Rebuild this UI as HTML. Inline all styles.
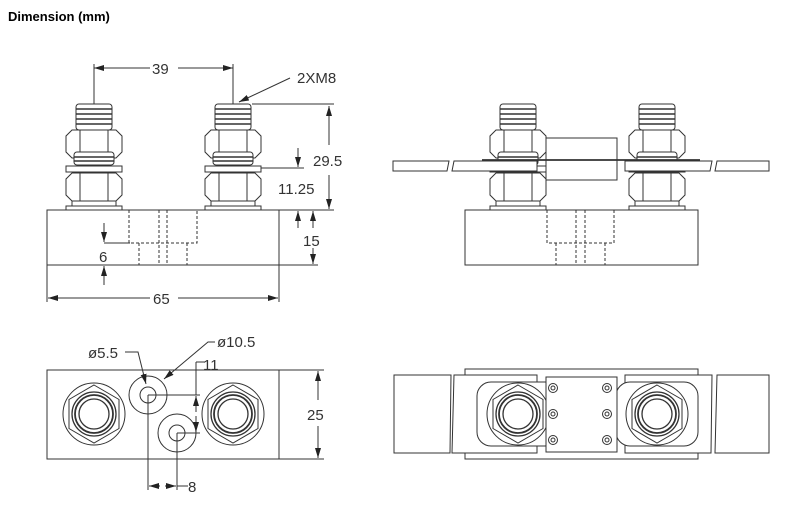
<!DOCTYPE html>
<html><head><meta charset="utf-8"><style>
body{margin:0;background:#fff;width:800px;height:517px;overflow:hidden}
svg{display:block}
text{font-family:"Liberation Sans",sans-serif;fill:#333}
</style></head><body>
<svg width="800" height="517" viewBox="0 0 800 517" xmlns="http://www.w3.org/2000/svg">
<defs>
<marker id="a" viewBox="0 0 10 6" refX="10" refY="3" markerWidth="10" markerHeight="6" orient="auto-start-reverse" markerUnits="userSpaceOnUse"><path d="M0,0L10,3L0,6z" fill="#222"/></marker>
<g id="stud" fill="#fff" stroke="#333" stroke-width="1">
 <rect x="-18" y="0" width="36" height="26" rx="3"/>
 <path d="M-18,5h36M-18,10h36M-18,15h36M-18,20h36" stroke-width="1.5"/>
 <path d="M-22,26h44l6,6v16l-6,6h-44l-6,-6v-16z"/>
 <path d="M-14,26v28M14,26v28"/>
 <rect x="-20" y="48" width="40" height="13" rx="3"/>
 <path d="M-20,53h40M-20,57h40" stroke-width="1.5"/>
 <rect x="-28" y="62" width="56" height="6"/>
 <path d="M-22,69h44l6,6v16l-6,6h-44l-6,-6v-16z"/>
 <path d="M-14,69v28M14,69v28"/>
 <rect x="-22" y="97" width="44" height="5"/>
 <rect x="-28" y="102" width="56" height="4"/>
</g>
<g id="nut" fill="#fff" stroke="#333">
 <circle r="31" stroke-width="1"/>
 <path d="M0,-29L25,-14.5V14.5L0,29L-25,14.5V-14.5z" stroke-width="1"/>
 <circle r="22" stroke-width="1.3"/><circle r="19" stroke-width="1.8"/><circle r="15" stroke-width="1.3"/>
</g>
<g id="scr" fill="#fff" stroke="#333"><circle r="4.5"/><circle r="2"/></g>
</defs>
<text x="8" y="21" font-size="13" font-weight="bold" style="fill:#000">Dimension (mm)</text>
<g stroke="#333" stroke-width="1" fill="none">
<!-- top-left view -->
<rect x="47" y="210" width="232" height="55"/>
<use href="#stud" x="94" y="104"/>
<use href="#stud" x="233" y="104"/>
<g stroke-dasharray="3,2">
<path d="M129,210V243H197V210M139,243V265M187,243V265M159,210V265M167,210V265"/>
</g>
<path d="M94,104V64M233,104V64"/>
<path d="M94,68H150M178,68H233" marker-start="url(#a)" marker-end="url(#a)"/>
<path d="M290,78L239,102" marker-end="url(#a)"/>
<path d="M252,104H334M279,210H334"/>
<path d="M329,106V145M329,175V209" marker-start="url(#a)" marker-end="url(#a)"/>
<path d="M261,168H304"/>
<path d="M298,148V167" marker-end="url(#a)"/>
<path d="M298,228V211" marker-end="url(#a)"/>
<path d="M313,228V211" marker-end="url(#a)"/>
<path d="M313,248V264" marker-end="url(#a)"/>
<path d="M279,265H318"/>
<path d="M104,223V242" marker-end="url(#a)"/>
<path d="M104,243H130"/>
<path d="M104,285V266" marker-end="url(#a)"/>
<path d="M47,265V302M279,265V302"/>
<path d="M48,298H150M178,298H278" marker-start="url(#a)" marker-end="url(#a)"/>
<!-- top-right view -->
<rect x="465" y="210" width="233" height="55"/>
<use href="#stud" x="518" y="104"/>
<use href="#stud" x="657" y="104"/>
<g stroke-dasharray="3,2">
<path d="M547,210V243H614V210M556,243V265M605,243V265M576,210V265M585,210V265"/>
</g>
<path d="M395,161H449L447,171H393V161z" fill="#fff"/>
<path d="M454,161H537V171H452z" fill="#fff"/>
<path d="M625,161H712L710,171H625z" fill="#fff"/>
<path d="M717,161H769V171H715z" fill="#fff"/>
<rect x="546" y="138" width="71" height="42" fill="#fff"/>
<path d="M482,160H700" stroke-width="1.8"/>
<!-- bottom-left view -->
<rect x="47" y="370" width="232" height="89"/>
<use href="#nut" x="94" y="414"/>
<use href="#nut" x="233" y="414"/>
<circle cx="148" cy="395" r="19"/><circle cx="148" cy="395" r="8"/>
<circle cx="177" cy="433" r="19"/><circle cx="177" cy="433" r="8"/>
<path d="M148,395H200M177,433H200"/>
<path d="M196,362V395"/>
<path d="M196,412V396" marker-end="url(#a)"/>
<path d="M196,416V432" marker-end="url(#a)"/>
<path d="M196,362H205"/>
<path d="M148,395V490M177,433V490"/>
<path d="M160,486H149" marker-end="url(#a)"/>
<path d="M165,486H176" marker-end="url(#a)"/>
<path d="M177,486H188"/>
<path d="M125,352H138L146,384" marker-end="url(#a)"/>
<path d="M215,342H208L164,379" marker-end="url(#a)"/>
<path d="M279,370H324M279,459H324"/>
<path d="M318,371V400M318,426V458" marker-start="url(#a)" marker-end="url(#a)"/>
<!-- bottom-right view -->
<rect x="465" y="369" width="233" height="90" fill="#fff"/>
<path d="M394,375H451L450,453H394z" fill="#fff"/>
<path d="M454,375H537V453H452z" fill="#fff"/>
<path d="M625,375H712L711,453H625z" fill="#fff"/>
<path d="M717,375H769V453H715z" fill="#fff"/>
<rect x="477" y="382" width="82" height="64" rx="14" fill="#fff"/>
<rect x="616" y="382" width="82" height="64" rx="14" fill="#fff"/>
<use href="#nut" x="518" y="414"/>
<use href="#nut" x="657" y="414"/>
<rect x="546" y="377" width="71" height="75" fill="#fff"/>
<use href="#scr" x="553" y="388"/><use href="#scr" x="553" y="414"/><use href="#scr" x="553" y="440"/>
<use href="#scr" x="607" y="388"/><use href="#scr" x="607" y="414"/><use href="#scr" x="607" y="440"/>
</g>
<g font-size="15">
<text x="152" y="74">39</text>
<text x="297" y="83">2XM8</text>
<text x="313" y="166">29.5</text>
<text x="278" y="194">11.25</text>
<text x="303" y="246">15</text>
<text x="99" y="262">6</text>
<text x="153" y="304">65</text>
<text x="88" y="358">ø5.5</text>
<text x="217" y="347">ø10.5</text>
<text x="203" y="370">11</text>
<text x="188" y="492">8</text>
<text x="307" y="420">25</text>
</g>
</svg>
</body></html>
